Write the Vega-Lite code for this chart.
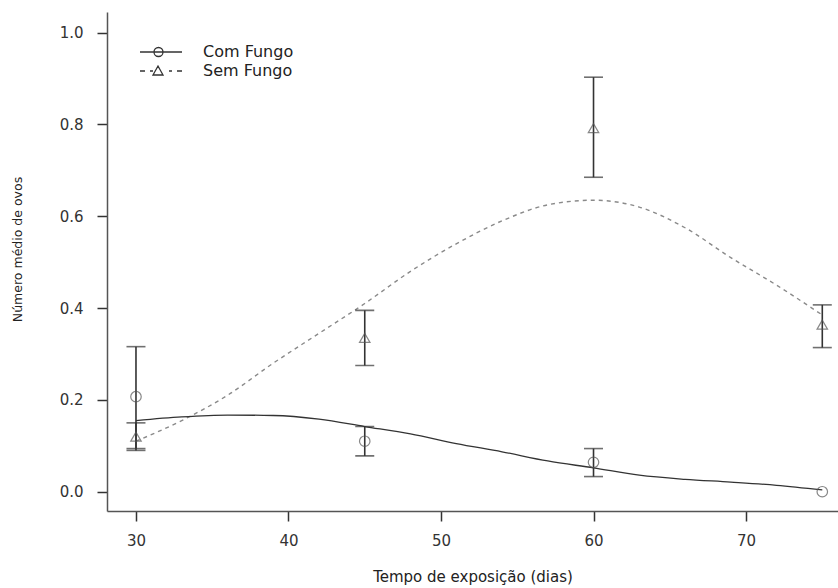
{
  "$schema": "https://vega.github.io/schema/vega-lite/v6.json",
  "width": 731,
  "height": 499,
  "autosize": {"type": "none"},
  "padding": {"left": 107, "top": 12, "right": 0, "bottom": 77},
  "background": "white",
  "config": {
    "view": {"stroke": null},
    "font": "DejaVu Sans",
    "axis": {
      "grid": false,
      "domainColor": "#555",
      "domainWidth": 1.5,
      "tickColor": "#333",
      "tickWidth": 1.5,
      "tickSize": 10,
      "labelFont": "DejaVu Sans",
      "labelFontSize": 15,
      "labelColor": "#333",
      "titleFont": "DejaVu Sans",
      "titleFontWeight": "normal",
      "titleColor": "#222"
    },
    "axisX": {"labelPadding": 12, "titleFontSize": 15, "titlePadding": 21},
    "axisY": {"labelPadding": 14, "titleFontSize": 12.5, "titlePadding": 35, "titleY": 237}
  },
  "datasets": {
    "pts": [
      {"dias": 30, "serie": "Com Fungo", "media": 0.207, "lo": 0.094, "hi": 0.316},
      {"dias": 45, "serie": "Com Fungo", "media": 0.110, "lo": 0.078, "hi": 0.142},
      {"dias": 60, "serie": "Com Fungo", "media": 0.064, "lo": 0.033, "hi": 0.094},
      {"dias": 75, "serie": "Com Fungo", "media": 0.0, "lo": null, "hi": null},
      {"dias": 30, "serie": "Sem Fungo", "media": 0.120, "lo": 0.090, "hi": 0.150},
      {"dias": 45, "serie": "Sem Fungo", "media": 0.335, "lo": 0.275, "hi": 0.395},
      {"dias": 60, "serie": "Sem Fungo", "media": 0.792, "lo": 0.685, "hi": 0.903},
      {"dias": 75, "serie": "Sem Fungo", "media": 0.364, "lo": 0.314, "hi": 0.407}
    ],
    "curva_com": [
      {"dias": 30, "ajuste": 0.155},
      {"dias": 33, "ajuste": 0.163},
      {"dias": 36, "ajuste": 0.167},
      {"dias": 39, "ajuste": 0.166},
      {"dias": 42, "ajuste": 0.158},
      {"dias": 45, "ajuste": 0.142},
      {"dias": 48, "ajuste": 0.126},
      {"dias": 51, "ajuste": 0.105},
      {"dias": 54, "ajuste": 0.087},
      {"dias": 57, "ajuste": 0.067},
      {"dias": 60, "ajuste": 0.052},
      {"dias": 63, "ajuste": 0.036},
      {"dias": 66, "ajuste": 0.027},
      {"dias": 69, "ajuste": 0.021},
      {"dias": 72, "ajuste": 0.014},
      {"dias": 75, "ajuste": 0.004}
    ],
    "curva_sem": [
      {"dias": 30, "ajuste": 0.110},
      {"dias": 33, "ajuste": 0.155},
      {"dias": 36, "ajuste": 0.210},
      {"dias": 39, "ajuste": 0.280},
      {"dias": 42, "ajuste": 0.345},
      {"dias": 45, "ajuste": 0.410},
      {"dias": 48, "ajuste": 0.480},
      {"dias": 51, "ajuste": 0.540},
      {"dias": 54, "ajuste": 0.590},
      {"dias": 57, "ajuste": 0.625},
      {"dias": 60, "ajuste": 0.635},
      {"dias": 63, "ajuste": 0.620},
      {"dias": 66, "ajuste": 0.575},
      {"dias": 69, "ajuste": 0.510},
      {"dias": 72, "ajuste": 0.450},
      {"dias": 75, "ajuste": 0.385}
    ]
  },
  "encoding": {
    "x": {
      "field": "dias",
      "type": "quantitative",
      "scale": {"domain": [28.1, 76.03], "nice": false, "zero": false},
      "axis": {"title": "Tempo de exposição (dias)", "values": [30, 40, 50, 60, 70], "format": "d"}
    }
  },
  "layer": [
    {
      "data": {"name": "curva_sem"},
      "mark": {"type": "line", "interpolate": "monotone", "strokeWidth": 1.4, "color": "#8a8a8a", "strokeDash": [4, 4]},
      "encoding": {
        "y": {
          "field": "ajuste",
          "type": "quantitative",
          "scale": {"domain": [-0.042, 1.045], "nice": false, "zero": false},
          "axis": {"title": "Número médio de ovos", "values": [0, 0.2, 0.4, 0.6, 0.8, 1.0], "format": ".1f"}
        }
      }
    },
    {
      "data": {"name": "curva_com"},
      "mark": {"type": "line", "interpolate": "monotone", "strokeWidth": 1.3, "color": "#333333"},
      "encoding": {
        "y": {"field": "ajuste", "type": "quantitative", "title": "Número médio de ovos"}
      }
    },
    {
      "data": {"name": "pts"},
      "mark": {"type": "rule", "color": "#333", "strokeWidth": 1.6},
      "encoding": {
        "y": {"field": "lo", "type": "quantitative", "title": "Número médio de ovos"},
        "y2": {"field": "hi"}
      }
    },
    {
      "data": {"name": "pts"},
      "mark": {"type": "tick", "orient": "horizontal", "color": "#333", "size": 19, "thickness": 1.6},
      "encoding": {
        "y": {"field": "lo", "type": "quantitative", "title": "Número médio de ovos"}
      }
    },
    {
      "data": {"name": "pts"},
      "mark": {"type": "tick", "orient": "horizontal", "color": "#333", "size": 19, "thickness": 1.6},
      "encoding": {
        "y": {"field": "hi", "type": "quantitative", "title": "Número médio de ovos"}
      }
    },
    {
      "data": {"name": "pts"},
      "transform": [{"filter": "datum.serie === 'Com Fungo'"}],
      "mark": {"type": "point", "shape": "circle", "filled": false, "color": "#555", "size": 110, "strokeWidth": 1.2},
      "encoding": {
        "y": {"field": "media", "type": "quantitative", "title": "Número médio de ovos"}
      }
    },
    {
      "data": {"name": "pts"},
      "transform": [{"filter": "datum.serie === 'Sem Fungo'"}],
      "mark": {"type": "point", "shape": "triangle-up", "filled": false, "color": "#555", "size": 110, "strokeWidth": 1.2},
      "encoding": {
        "y": {"field": "media", "type": "quantitative", "title": "Número médio de ovos"}
      }
    },
    {
      "data": {"name": "pts"},
      "mark": {"type": "point", "filled": false, "color": "#333", "opacity": 0, "size": 100, "strokeWidth": 1.3},
      "encoding": {
        "y": {"field": "media", "type": "quantitative", "title": "Número médio de ovos"},
        "shape": {
          "field": "serie",
          "type": "nominal",
          "scale": {
            "domain": ["Com Fungo", "Sem Fungo"],
            "range": [
              "M-1,0L7.4,0M3.6,0A0.9,0.9,0,1,1,1.8,0A0.9,0.9,0,1,1,3.6,0",
              "M-1,0L0,0M1,0L1.6,0M4.8,0L5.4,0M6.4,0L7.4,0M2.6,-1L3.6,0.8L1.6,0.8Z"
            ]
          },
          "legend": {
            "title": null,
            "orient": "none",
            "legendX": 30,
            "legendY": 32,
            "padding": 0,
            "symbolSize": 100,
            "symbolStrokeWidth": 1.3,
            "symbolStrokeColor": "#333",
            "symbolOpacity": 1,
            "labelFont": "DejaVu Sans",
            "labelFontSize": 16,
            "labelColor": "#222",
            "labelOffset": 50,
            "rowPadding": 3
          }
        }
      }
    }
  ]
}
